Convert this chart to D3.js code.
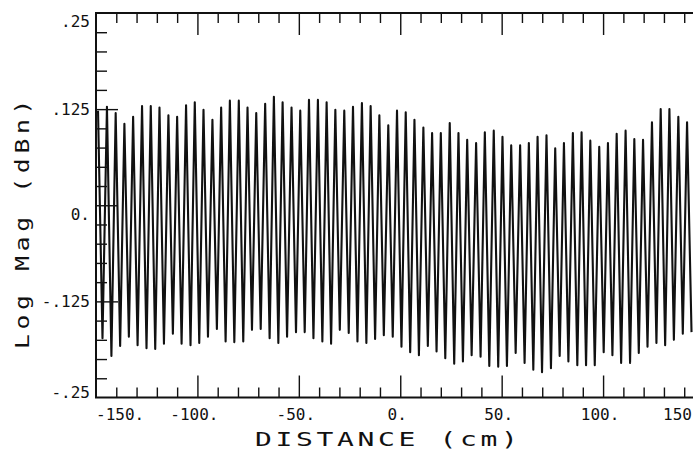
<!DOCTYPE html>
<html>
<head>
<meta charset="utf-8">
<script src="https://cdn.jsdelivr.net/npm/d3@7"></script>
<style>
  html, body { margin: 0; padding: 0; background: #fff; overflow: hidden; }
  text { font-family: 'DejaVu Sans Mono', monospace; fill: #111; }
</style>
</head>
<body>
<div id="chart"></div>
<script>
// peak positions (cm) and heights (dBn)
const peakX = [
  -149.0, -144.6, -140.3, -136.0, -131.7, -127.3, -123.0, -118.7, -114.3, -110.0,
  -105.6, -101.3, -97.0, -92.6, -88.3, -84.0, -79.6, -75.3, -71.0, -66.6,
  -62.3, -58.0, -53.6, -49.3, -45.0, -40.6, -36.3, -32.0, -27.6, -23.3,
  -18.9, -14.6, -10.3, -5.9, -1.6, 2.7, 7.0, 11.4, 15.7, 20.0,
  24.4, 28.7, 33.0, 37.4, 41.7, 46.1, 50.4, 54.7, 59.1, 63.4,
  67.7, 72.1, 76.4, 80.7, 85.1, 89.4, 93.7, 98.1, 102.4, 106.7,
  111.1, 115.4, 119.7, 124.1, 128.4, 132.7, 137.1, 141.4
]
const peakY = [
  0.123, 0.128, 0.120, 0.106, 0.115, 0.129, 0.129, 0.127, 0.117, 0.115,
  0.130, 0.134, 0.124, 0.111, 0.127, 0.136, 0.136, 0.127, 0.120, 0.132,
  0.141, 0.134, 0.127, 0.123, 0.137, 0.137, 0.134, 0.124, 0.123, 0.128,
  0.133, 0.129, 0.117, 0.104, 0.123, 0.121, 0.111, 0.101, 0.094, 0.094,
  0.107, 0.094, 0.085, 0.081, 0.095, 0.097, 0.089, 0.078, 0.078, 0.081,
  0.089, 0.091, 0.074, 0.081, 0.094, 0.095, 0.084, 0.076, 0.081, 0.093,
  0.097, 0.086, 0.085, 0.108, 0.125, 0.125, 0.115, 0.108
]

// trough positions (cm) and depths (dBn)
const troughX = [
  -146.8, -142.4, -138.1, -133.8, -129.5, -125.1, -120.8, -116.5, -112.1, -107.8,
  -103.4, -99.1, -94.8, -90.4, -86.1, -81.8, -77.4, -73.1, -68.8, -64.4,
  -60.1, -55.8, -51.4, -47.1, -42.8, -38.4, -34.1, -29.8, -25.4, -21.1,
  -16.7, -12.4, -8.1, -3.7, 0.6, 4.9, 9.2, 13.6, 17.9, 22.2,
  26.6, 30.9, 35.2, 39.6, 43.9, 48.3, 52.6, 56.9, 61.3, 65.6,
  69.9, 74.3, 78.6, 82.9, 87.3, 91.6, 95.9, 100.3, 104.6, 108.9,
  113.3, 117.6, 121.9, 126.3, 130.6, 134.9, 139.3, 143.6
]
const troughY = [
  -0.173, -0.196, -0.183, -0.171, -0.182, -0.186, -0.187, -0.180, -0.167, -0.180,
  -0.182, -0.179, -0.171, -0.161, -0.177, -0.178, -0.177, -0.162, -0.161, -0.173,
  -0.179, -0.171, -0.165, -0.165, -0.173, -0.177, -0.180, -0.162, -0.166, -0.177,
  -0.179, -0.174, -0.169, -0.171, -0.184, -0.191, -0.195, -0.183, -0.190, -0.199,
  -0.206, -0.203, -0.195, -0.197, -0.209, -0.210, -0.209, -0.192, -0.205, -0.214,
  -0.217, -0.212, -0.196, -0.203, -0.208, -0.208, -0.208, -0.191, -0.195, -0.205,
  -0.205, -0.192, -0.184, -0.179, -0.182, -0.175, -0.167, -0.165
]

const xLabelValues = [-150, -100, -50, 0, 50, 100, 150]
const xLabelText = ['-150.', '-100.', '-50.', '0.', '50.', '100.', '150']
const yLabelValues = [0.25, 0.125, 0, -0.125, -0.25]
const yLabelText = ['.25', '.125', '0.', '-.125', '-.25']

const xTitle = 'DISTANCE (cm)'
const yTitle = 'Log Mag (dBn)'

const render = () => {
  const width = 693
  const height = 451
  // right edge of the frame falls just outside the picture, as in the scan
  const margin = { top: 13, left: 96, plotRight: 704.5, plotBottom: 397.5 }

  const svg = d3
    .select('#chart')
    .append('svg')
    .attr('width', width)
    .attr('height', height)

  const xScale = d3
    .scaleLinear()
    .domain([-150, 150])
    .range([margin.left, margin.plotRight])

  const yScale = d3
    .scaleLinear()
    .domain([-0.25, 0.25])
    .range([margin.plotBottom, margin.top])

  const xMinor = d3.range(-140, 151, 10).filter((v) => v % 50 !== 0)
  const xMajor = [-100, -50, 0, 50, 100]
  const yMinor = d3
    .range(-0.225, 0.25, 0.025)
    .filter((v) => Math.abs(v / 0.125 - Math.round(v / 0.125)) > 0.01)
  const yMajor = [0.125, 0, -0.125]

  const addTicks = (axisFn, scale, transform, values, size) => {
    const g = svg
      .append('g')
      .attr('transform', transform)
      .call(axisFn(scale).tickValues(values).tickSize(size).tickFormat(''))
    g.select('.domain').remove()
    g.selectAll('line').attr('stroke', '#111').attr('stroke-width', 1.4)
  }

  // top ticks point down, bottom ticks point up, left ticks point right
  addTicks(d3.axisBottom, xScale, `translate(0, ${margin.top})`, xMinor, 10)
  addTicks(d3.axisBottom, xScale, `translate(0, ${margin.top})`, xMajor, 22)
  addTicks(d3.axisTop, xScale, `translate(0, ${margin.plotBottom})`, xMinor, 10)
  addTicks(d3.axisTop, xScale, `translate(0, ${margin.plotBottom})`, xMajor, 22)
  addTicks(d3.axisRight, yScale, `translate(${margin.left}, 0)`, yMinor, 11)
  addTicks(d3.axisRight, yScale, `translate(${margin.left}, 0)`, yMajor, 22)

  // frame
  svg
    .append('rect')
    .attr('x', xScale(-150))
    .attr('y', yScale(0.25))
    .attr('width', xScale(150) - xScale(-150))
    .attr('height', yScale(-0.25) - yScale(0.25))
    .attr('fill', 'none')
    .attr('stroke', '#111')
    .attr('stroke-width', 2)

  // trace: alternate peaks and troughs
  const trace = []
  peakX.forEach((px, i) => {
    trace.push({ x: px, y: peakY[i] })
    trace.push({ x: troughX[i], y: troughY[i] })
  })

  const line = d3
    .line()
    .x((d) => xScale(d.x))
    .y((d) => yScale(d.y))

  svg
    .append('path')
    .datum(trace)
    .attr('d', line)
    .attr('fill', 'none')
    .attr('stroke', '#111')
    .attr('stroke-width', 2.1)
    .attr('stroke-linejoin', 'round')

  // x tick labels
  svg
    .append('g')
    .selectAll('text')
    .data(xLabelValues)
    .enter()
    .append('text')
    .attr('x', (d) => {
      if (d === -150) return xScale(d)
      if (d === 150) return width - 1
      return xScale(d) - 3
    })
    .attr('y', 420)
    .attr('text-anchor', (d) => (d === -150 ? 'start' : d === 150 ? 'end' : 'middle'))
    .attr('font-size', 16)
    .text((d, i) => xLabelText[i])

  // y tick labels
  svg
    .append('g')
    .selectAll('text')
    .data(yLabelValues)
    .enter()
    .append('text')
    .attr('x', 90)
    .attr('y', (d) => {
      if (d === 0.25) return yScale(d) + 14
      if (d === -0.25) return yScale(d)
      if (d === 0) return yScale(d) + 15
      return yScale(d) + 6
    })
    .attr('text-anchor', 'end')
    .attr('font-size', 16)
    .text((d, i) => yLabelText[i])

  // axis titles, glyphs widened like the plotter lettering
  svg
    .append('text')
    .attr('transform', 'translate(255, 446) scale(1.4, 1)')
    .attr('font-size', 20)
    .attr('letter-spacing', 2.6)
    .text(xTitle)

  svg
    .append('text')
    .attr('transform', 'translate(29, 349) rotate(-90) scale(1.3, 1)')
    .attr('font-size', 19)
    .attr('letter-spacing', 3.6)
    .text(yTitle)
}

render()
</script>
</body>
</html>
